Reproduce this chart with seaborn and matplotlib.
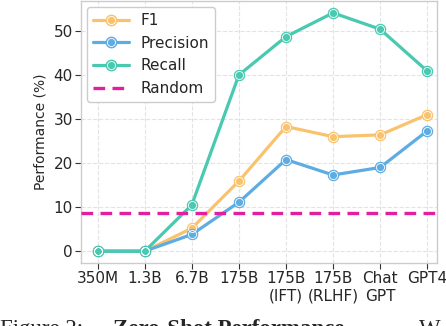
import numpy as np
import pandas as pd
import matplotlib
matplotlib.use("Agg")
import matplotlib.pyplot as plt
import seaborn as sns
from matplotlib.legend_handler import HandlerTuple

# data
models = ["350M", "1.3B", "6.7B", "175B", "175B\n(IFT)", "175B\n(RLHF)", "Chat\nGPT", "GPT4"]
f1 = [0.0, 0.0, 5.2, 15.9, 28.3, 26.0, 26.4, 31.0]
precision = [0.0, 0.0, 3.8, 11.1, 20.8, 17.3, 19.0, 27.3]
recall = [0.0, 0.0, 10.5, 40.0, 48.7, 54.1, 50.4, 40.9]
random_baseline = 8.7

series_names = ["F1", "Precision", "Recall"]
colors = {"F1": "#f9c36e", "Precision": "#5dade2", "Recall": "#48c9b0"}
random_color = "#e0209f"

df = pd.DataFrame({
    "x": np.tile(np.arange(len(models)), 3),
    "value": f1 + precision + recall,
    "metric": np.repeat(series_names, len(models)),
})

sns.set_style("whitegrid")
plt.rcParams["font.family"] = ["DejaVu Sans"]

fig = plt.figure(figsize=(4.46, 3.26), dpi=100)
ax = fig.add_axes([0.182, 0.193, 0.798, 0.804])

sns.lineplot(data=df, x="x", y="value", hue="metric", palette=colors,
             marker="o", markersize=7.5, markeredgecolor=None, linewidth=2.3,
             legend=False, ax=ax)

handles = []
for name in series_names:
    sub = df[df["metric"] == name]
    ring, = ax.plot(sub["x"], sub["value"], ls="", marker="o", markersize=5.8,
                    mfc="none", mec="white", mew=0.6, zorder=3)
    base, = ax.plot([], [], color=colors[name], lw=2.3, marker="o", markersize=7.5,
                    mec=colors[name])
    handles.append((base, ring))

rnd = ax.axhline(random_baseline, color=random_color, lw=2.4, ls=(0, (3.5, 2.2)), zorder=4)
handles.append(rnd)

ax.set_xlim(-0.35, 7.21)
ax.set_ylim(-2.7, 56.8)
ax.set_xticks(np.arange(len(models)))
ax.set_xticklabels(models)
ax.set_yticks([0, 10, 20, 30, 40, 50])
ax.set_xlabel("")
ax.set_ylabel("Performance (%)", fontsize=10)
ax.tick_params(axis="both", labelsize=11, length=4, width=0.8, color="#333333",
               bottom=True, left=True, pad=2)
ax.grid(True, ls="--", color="#e3e3e3", lw=0.8)
for s in ax.spines.values():
    s.set_color("#cccccc")
    s.set_linewidth(1.0)

ax.legend(handles, series_names + ["Random"], loc="upper left", fontsize=11,
          handler_map={tuple: HandlerTuple(ndivide=1)}, handlelength=2.3,
          frameon=True, edgecolor="#cccccc", framealpha=1.0,
          borderaxespad=0.4, labelspacing=0.5)

# caption cut at the bottom edge of the image
fig.text(0.0, 0.02, "Figure 2: ", fontsize=16.5, family="Liberation Serif",
         va="top", ha="left")
fig.text(0.253, 0.02, "Zero-Shot Performance", fontsize=16.5, family="Liberation Serif",
         weight="bold", va="top", ha="left")
fig.text(0.94, 0.02, "W", fontsize=16.5, family="Liberation Serif",
         va="top", ha="left")

fig.savefig("out.png", dpi=100)
